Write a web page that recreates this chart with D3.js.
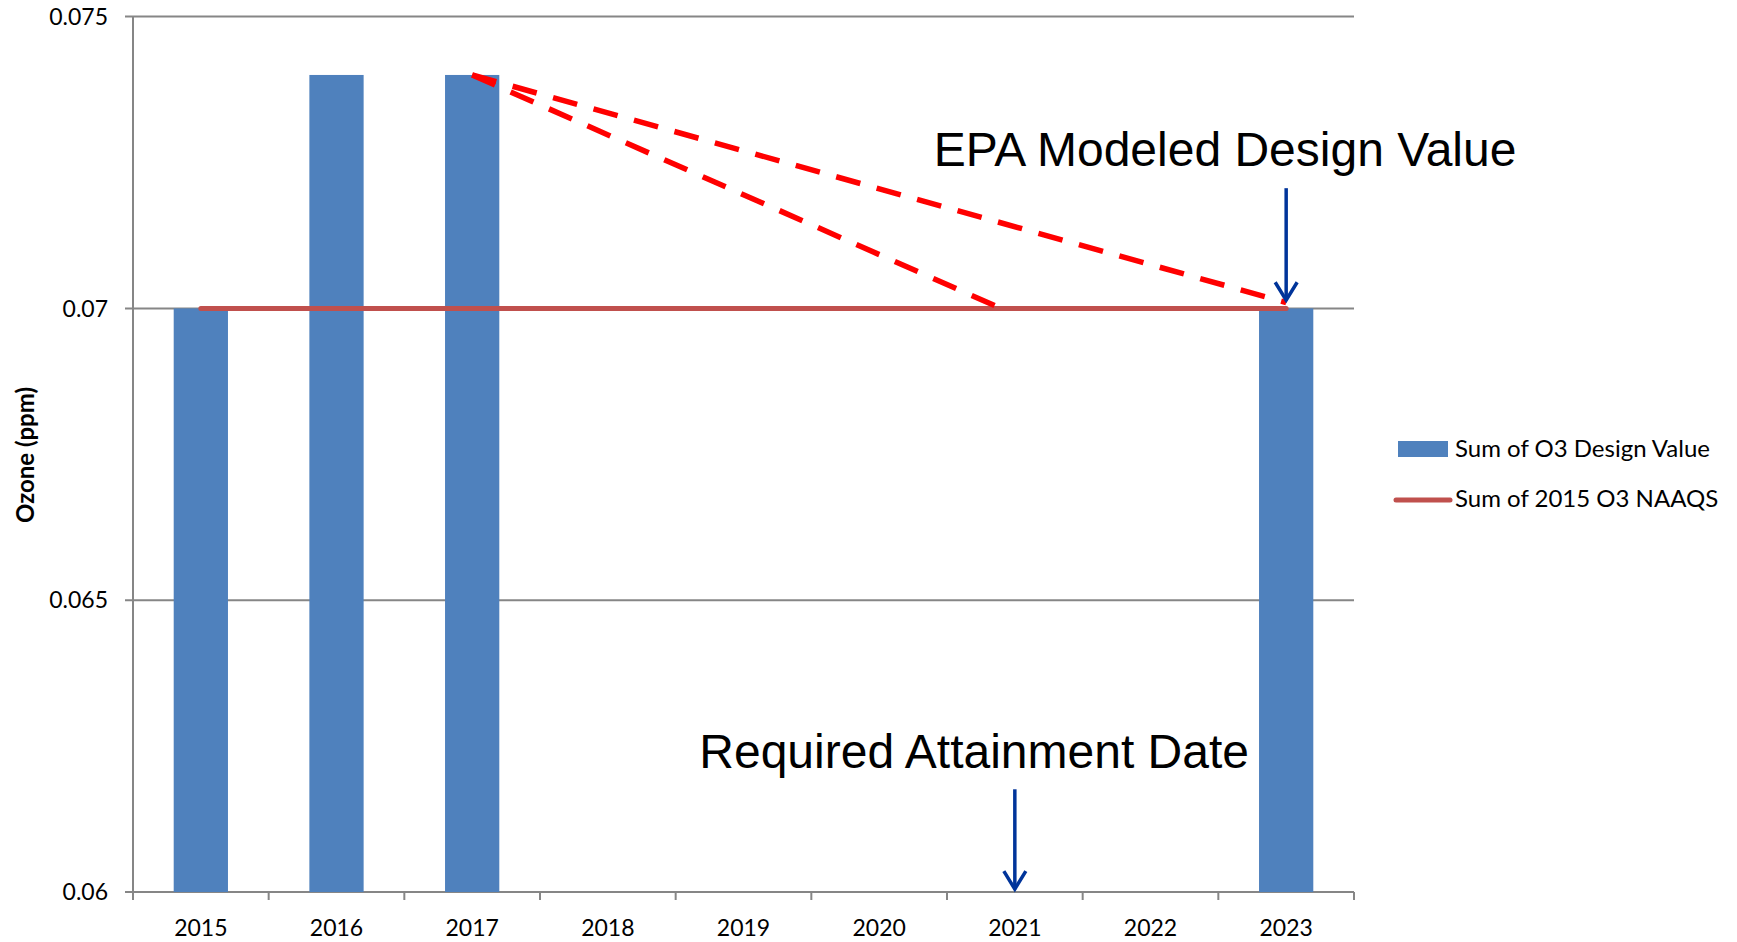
<!DOCTYPE html>
<html>
<head>
<meta charset="utf-8">
<title>Ozone design value</title>
<script src="https://cdn.jsdelivr.net/npm/d3@7"></script>
<style>
  body { margin: 0; background: #fff; }
  svg { display: block; }
</style>
</head>
<body>
<div id="chart"></div>
<script>
// data
var years = ["2015", "2016", "2017", "2018", "2019", "2020", "2021", "2022", "2023"];
var designValue = [0.070, 0.074, 0.074, null, null, null, null, null, 0.070];
var naaqs = [0.070, 0.070, 0.070, 0.070, 0.070, 0.070, 0.070, 0.070, 0.070];
var yTicks = [0.06, 0.065, 0.07, 0.075];
var yTickLabels = ["0.06", "0.065", "0.07", "0.075"];

// hand drawn annotations, in data units (year, ozone)
var dashLines = [
    [[2017, 0.0740], [2023, 0.07010]],
    [[2017, 0.0740], [2020.87, 0.07003]]
];
var arrows = [
    {year: 2023, from: 0.07206, to: 0.07014},
    {year: 2021, from: 0.06176, to: 0.06005}
];
var notes = [
    {text: "EPA Modeled Design Value", year: 2022.55, value: 0.07244},
    {text: "Required Attainment Date", year: 2020.70, value: 0.06212}
];

var width = 1737, height = 942;
var plotLeft = 133, plotRight = 1354, plotTop = 16.6, plotBottom = 892;

var svg = d3.select("#chart").append("svg")
    .attr("width", width)
    .attr("height", height);

var x = d3.scaleBand()
    .domain(years)
    .range([plotLeft, plotRight])
    .paddingInner(0.6)
    .paddingOuter(0.3);

var y = d3.scaleLinear()
    .domain([0.06, 0.075])
    .range([plotBottom, plotTop]);

// year -> pixel at band centres, fractional years allowed for annotations
var xYear = d3.scaleLinear()
    .domain([2015, 2023])
    .range([x("2015") + x.bandwidth() / 2, x("2023") + x.bandwidth() / 2]);

var grey = "#868686";

// gridlines + y ticks
svg.append("g").selectAll("line")
    .data(yTicks)
  .enter().append("line")
    .attr("x1", plotLeft - 8)
    .attr("x2", plotRight)
    .attr("y1", function(d) { return y(d); })
    .attr("y2", function(d) { return y(d); })
    .attr("stroke", grey)
    .attr("stroke-width", 2);

svg.append("g").selectAll("text")
    .data(yTicks)
  .enter().append("text")
    .attr("x", 108)
    .attr("y", function(d) { return y(d); })
    .attr("dy", "0.36em")
    .attr("text-anchor", "end")
    .style("font-family", "Lato, 'Open Sans', sans-serif")
    .style("font-size", "23px")
    .attr("fill", "#000")
    .text(function(d, i) { return yTickLabels[i]; });

// y axis line
svg.append("line")
    .attr("x1", plotLeft).attr("x2", plotLeft)
    .attr("y1", plotTop).attr("y2", plotBottom)
    .attr("stroke", grey)
    .attr("stroke-width", 2);

// x axis: labels from d3 axis, tick marks between categories
var xAxis = svg.append("g")
    .attr("transform", "translate(0," + plotBottom + ")")
    .call(d3.axisBottom(x).tickSize(0).tickPadding(0));
xAxis.select(".domain").remove();
xAxis.selectAll("text")
    .attr("y", 44)
    .attr("dy", 0)
    .style("font-family", "Lato, 'Open Sans', sans-serif")
    .style("font-size", "23px")
    .attr("fill", "#000");

svg.append("line")
    .attr("x1", plotLeft).attr("x2", plotRight)
    .attr("y1", plotBottom).attr("y2", plotBottom)
    .attr("stroke", grey)
    .attr("stroke-width", 2);

var bounds = years.map(function(d) { return x(d) - x.step() * x.paddingInner() / 2; });
bounds.push(plotRight);
svg.append("g").selectAll("line")
    .data(bounds)
  .enter().append("line")
    .attr("x1", function(d) { return d; })
    .attr("x2", function(d) { return d; })
    .attr("y1", plotBottom)
    .attr("y2", plotBottom + 8)
    .attr("stroke", grey)
    .attr("stroke-width", 2);

// bars
svg.append("g").selectAll("rect")
    .data(years.filter(function(d, i) { return designValue[i] != null; }))
  .enter().append("rect")
    .attr("x", function(d) { return x(d); })
    .attr("width", x.bandwidth())
    .attr("y", function(d) { return y(designValue[years.indexOf(d)]); })
    .attr("height", function(d) { return plotBottom - y(designValue[years.indexOf(d)]); })
    .attr("fill", "#4F81BD");

// NAAQS line
var line = d3.line()
    .x(function(d, i) { return x(years[i]) + x.bandwidth() / 2; })
    .y(function(d) { return y(d); });

svg.append("path")
    .datum(naaqs)
    .attr("d", line)
    .attr("fill", "none")
    .attr("stroke", "#C0504D")
    .attr("stroke-width", 5)
    .attr("stroke-linecap", "round");

// dashed projections
var dashLine = d3.line()
    .x(function(d) { return xYear(d[0]); })
    .y(function(d) { return y(d[1]); });

svg.append("g").selectAll("path")
    .data(dashLines)
  .enter().append("path")
    .attr("d", dashLine)
    .attr("fill", "none")
    .attr("stroke", "#FF0000")
    .attr("stroke-width", 5.5)
    .attr("stroke-dasharray", "25,17");

// arrows
var arrowG = svg.append("g").selectAll("g")
    .data(arrows)
  .enter().append("g")
    .attr("stroke", "#00349A")
    .attr("stroke-width", 3.5)
    .attr("fill", "none");

arrowG.append("line")
    .attr("x1", function(d) { return xYear(d.year); })
    .attr("x2", function(d) { return xYear(d.year); })
    .attr("y1", function(d) { return y(d.from); })
    .attr("y2", function(d) { return y(d.to); });

arrowG.append("path")
    .attr("d", function(d) {
        var ax = xYear(d.year), ay = y(d.to);
        return "M" + (ax - 11) + "," + (ay - 18) + "L" + ax + "," + ay + "L" + (ax + 11) + "," + (ay - 18);
    })
    .attr("stroke-linejoin", "miter");

// annotation text
svg.append("g").selectAll("text")
    .data(notes)
  .enter().append("text")
    .attr("x", function(d) { return xYear(d.year); })
    .attr("y", function(d) { return y(d.value); })
    .attr("text-anchor", "middle")
    .style("font-family", "'Liberation Sans', Arial, sans-serif")
    .style("font-size", "48px")
    .attr("fill", "#000")
    .text(function(d) { return d.text; });

// y axis title
svg.append("text")
    .attr("transform", "translate(34,455) rotate(-90)")
    .attr("text-anchor", "middle")
    .style("font-family", "Lato, 'Open Sans', sans-serif")
    .style("font-size", "24px")
    .style("font-weight", "bold")
    .attr("fill", "#000")
    .text("Ozone (ppm)");

// legend
var legend = svg.append("g")
    .style("font-family", "Lato, 'Open Sans', sans-serif")
    .style("font-size", "24px");

legend.append("rect")
    .attr("x", 1398).attr("y", 441)
    .attr("width", 50).attr("height", 16)
    .attr("fill", "#4F81BD");
legend.append("text")
    .attr("x", 1455).attr("y", 457)
    .text("Sum of O3 Design Value");

legend.append("line")
    .attr("x1", 1396).attr("x2", 1450)
    .attr("y1", 500).attr("y2", 500)
    .attr("stroke", "#C0504D")
    .attr("stroke-width", 5)
    .attr("stroke-linecap", "round");
legend.append("text")
    .attr("x", 1455).attr("y", 507)
    .text("Sum of 2015 O3 NAAQS");
</script>
</body>
</html>
